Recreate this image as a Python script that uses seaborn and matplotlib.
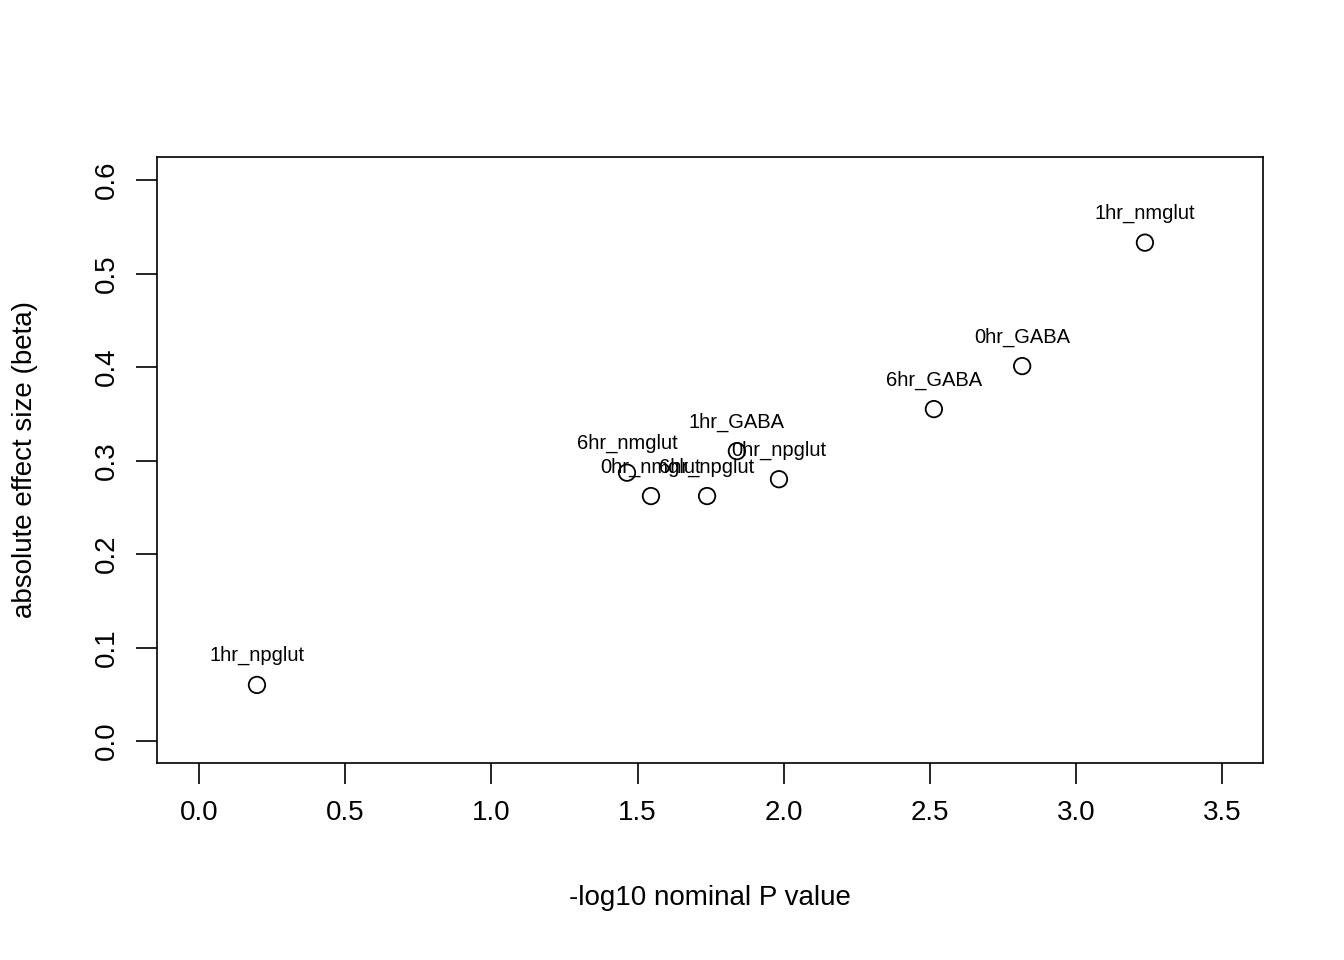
import matplotlib
matplotlib.use("Agg")
from matplotlib import pyplot as plt
import seaborn as sns
import pandas as pd

# values
labels = ["1hr_npglut", "6hr_nmglut", "0hr_nmglut", "6hr_npglut", "1hr_GABA",
          "0hr_npglut", "6hr_GABA", "0hr_GABA", "1hr_nmglut"]
neg_log_p = [0.198, 1.464, 1.546, 1.738, 1.840, 1.984, 2.514, 2.816, 3.236]
abs_beta = [0.060, 0.287, 0.262, 0.262, 0.310, 0.280, 0.355, 0.401, 0.533]

df = pd.DataFrame({"label": labels, "p": neg_log_p, "beta": abs_beta})

sns.set_theme(style="white")
plt.rcParams["font.family"] = ["Liberation Sans", "DejaVu Sans"]
plt.rcParams["text.color"] = "black"

fig = plt.figure(figsize=(13.44, 9.6), dpi=100)
ax = fig.add_axes([157 / 1344, 1 - 763 / 960, (1263 - 157) / 1344, (763 - 157) / 960])

sns.scatterplot(data=df, x="p", y="beta", ax=ax, s=140, facecolor="none",
                edgecolor="black", linewidth=1.3)

# overlapping labels kept as in the reference
for lab, x, y in zip(labels, neg_log_p, abs_beta):
    ax.annotate(lab, (x, y), xytext=(0, 14), textcoords="offset points",
                ha="center", va="bottom", fontsize=14.5, color="black")

ax.set_xlim(-0.144, 3.640)
ax.set_ylim(-0.0235, 0.6246)
ax.set_xticks([0.0, 0.5, 1.0, 1.5, 2.0, 2.5, 3.0, 3.5])
ax.set_yticks([0.0, 0.1, 0.2, 0.3, 0.4, 0.5, 0.6])
ax.set_xticklabels(["%.1f" % v for v in ax.get_xticks()])
ax.set_yticklabels(["%.1f" % v for v in ax.get_yticks()], rotation=90, va="center")
ax.tick_params(axis="both", direction="out", length=15, width=1.2, color="black",
               labelcolor="black", labelsize=20, pad=12, bottom=True, left=True)
for s in ax.spines.values():
    s.set_color("black")
    s.set_linewidth(1.2)

ax.set_xlabel("-log10 nominal P value", fontsize=20, labelpad=42, color="black")
ax.set_ylabel("absolute effect size (beta)", fontsize=20, labelpad=40, color="black")

fig.savefig("out.png", dpi=100)
